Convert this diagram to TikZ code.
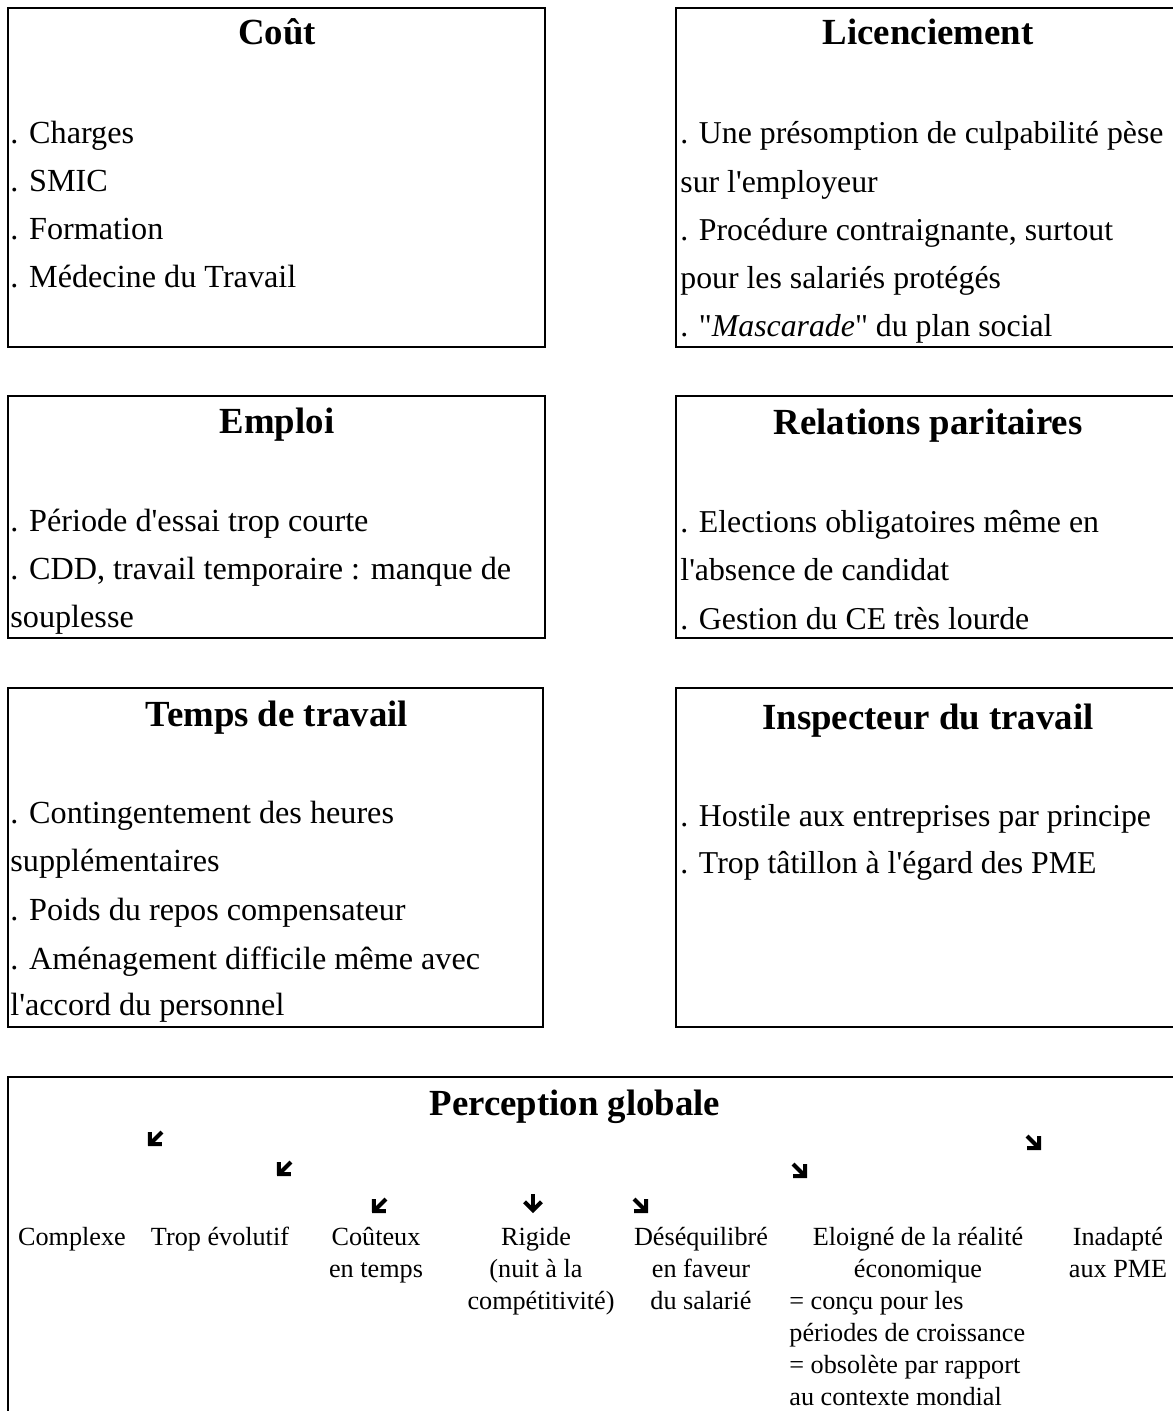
\documentclass[tikz,border=0pt]{standalone}
\usepackage{fontspec}
% plain family: keeps straight ' and " as typed
\newfontfamily\txt{Liberation Serif}
\usetikzlibrary{arrows.meta}
\begin{document}
\begin{tikzpicture}[x=0.5pt,y=-0.5pt,
  frame/.style={draw,line width=1pt},
  head/.style={font=\txt\fontsize{18.4}{22}\selectfont\bfseries,anchor=base,inner sep=0pt},
  item/.style={font=\txt\fontsize{16.1}{20}\selectfont,anchor=base west,inner sep=0pt},
  itemr/.style={font=\txt\fontsize{15.9}{20}\selectfont,anchor=base west,inner sep=0pt},
  small/.style={font=\txt\fontsize{13.1}{16}\selectfont,anchor=base,inner sep=0pt},
  smallw/.style={font=\txt\fontsize{13.1}{16}\selectfont,anchor=base west,inner sep=0pt},
  pointer/.style={-{Straight Barb[length=4.2pt,width=8.5pt]},line width=2pt}]
\useasboundingbox (0,0) rectangle (1172,1411);

% ---- Coût
\draw[frame] (8,8) rectangle (545,347);
\node[head] (cout) at (277,45) {Coût};
\node[item] (c1) at (10,144) {. Charges};
\node[item] (c2) at (10,192) {. SMIC};
\node[item] (c3) at (10,240) {. Formation};
\node[item] (c4) at (10,288) {. Médecine du Travail};

% ---- Licenciement
\draw[frame] (676,8) rectangle (1180,347);
\node[head] (lic) at (928,45) {Licenciement};
\node[itemr] (l1) at (680,144) {. Une présomption de culpabilité pèse};
\node[itemr] (l2) at (680,193) {sur l'employeur};
\node[itemr] (l3) at (680,241) {. Procédure contraignante, surtout};
\node[itemr] (l4) at (680,289) {pour les salariés protégés};
\node[itemr] (l5) at (680,337) {. "\textit{Mascarade}" du plan social};

% ---- Emploi
\draw[frame] (8,396) rectangle (545,638);
\node[head] (emp) at (277,433) {Emploi};
\node[item] (e1) at (10,531) {. Période d'essai trop courte};
\node[item] (e2) at (10,579) {. CDD, travail temporaire : manque de};
\node[item] (e3) at (10,627) {souplesse};

% ---- Relations paritaires
\draw[frame] (676,396) rectangle (1180,638);
\node[head] (rel) at (928,435) {Relations paritaires};
\node[itemr] (r1) at (680,532) {. Elections obligatoires même en};
\node[itemr] (r2) at (680,580) {l'absence de candidat};
\node[itemr] (r3) at (680,629) {. Gestion du CE très lourde};

% ---- Temps de travail
\draw[frame] (8,688) rectangle (543,1027);
\node[head] (tps) at (277,726) {Temps de travail};
\node[item] (t1) at (10,823) {. Contingentement des heures};
\node[item] (t2) at (10,871) {supplémentaires};
\node[item] (t3) at (10,920) {. Poids du repos compensateur};
\node[item] (t4) at (10,969) {. Aménagement difficile même avec};
\node[item] (t5) at (10,1015) {l'accord du personnel};

% ---- Inspecteur du travail
\draw[frame] (676,688) rectangle (1180,1027);
\node[head] (insp) at (928,729) {Inspecteur du travail};
\node[itemr] (i1) at (680,826) {. Hostile aux entreprises par principe};
\node[itemr] (i2) at (680,873) {. Trop tâtillon à l'égard des PME};

% ---- Perception globale
\draw[frame] (8,1077) rectangle (1180,1420);
\node[head] (perc) at (575,1115) {Perception globale};

\node[small] (p1) at (72,1245) {Complexe};
\node[small] (p2) at (220,1245) {Trop évolutif};
\node[small] (p3) at (376,1245) {Coûteux};
\node[small] (p3b) at (376,1277) {en temps};
\node[small] (p4) at (536,1245) {Rigide};
\node[small] (p4b) at (536,1277) {(nuit à la};
\node[small] (p4c) at (541,1309) {compétitivité)};
\node[small] (p5) at (701,1245) {Déséquilibré};
\node[small] (p5b) at (701,1277) {en faveur};
\node[small] (p5c) at (701,1309) {du salarié};
\node[small] (p6) at (918,1245) {Eloigné de la réalité};
\node[small] (p6b) at (918,1277) {économique};
\node[smallw] (p6c) at (789,1309) {= conçu pour les};
\node[smallw] (p6d) at (789,1341) {périodes de croissance};
\node[smallw] (p6e) at (789,1373) {= obsolète par rapport};
\node[smallw] (p6f) at (789,1405) {au contexte mondial};
\node[small] (p7) at (1118,1245) {Inadapté};
\node[small] (p7b) at (1118,1277) {aux PME};

% pointers fanning out towards the perceptions
\coordinate (a1s) at (162,1132); \coordinate (a1e) at (148,1146);
\coordinate (a2s) at (291,1162); \coordinate (a2e) at (277,1176);
\coordinate (a3s) at (386,1199); \coordinate (a3e) at (372,1213);
\coordinate (a4s) at (533,1194); \coordinate (a4e) at (533,1213);
\coordinate (a5s) at (634,1199); \coordinate (a5e) at (648,1213);
\coordinate (a6s) at (793,1164); \coordinate (a6e) at (807,1178);
\coordinate (a7s) at (1027,1136); \coordinate (a7e) at (1041,1150);
\foreach \k in {1,...,7} \draw[pointer] (a\k s) -- (a\k e);
\end{tikzpicture}
\end{document}
